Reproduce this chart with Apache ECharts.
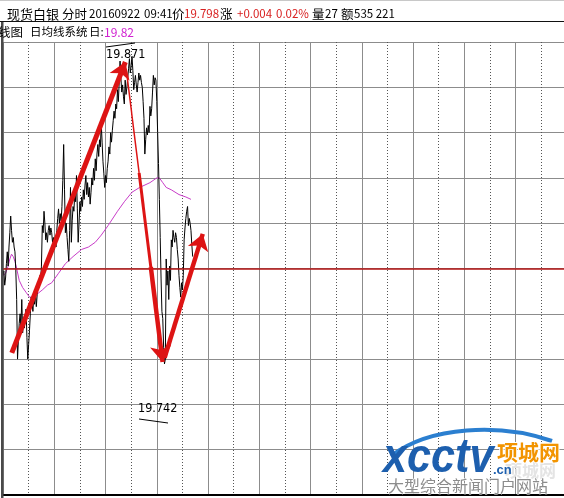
<!DOCTYPE html>
<html><head><meta charset="utf-8">
<script src="https://cdn.jsdelivr.net/npm/echarts@6/dist/echarts.min.js"></script>
<style>html,body{margin:0;padding:0;background:#fff;overflow:hidden}#c{width:564px;height:498px;}</style>
</head><body><div id="c"></div>
<script>
// ---- data (minute index from 06:00) ----
const priceValues = [
19.779,19.781,19.775,19.778,19.784,19.789,19.783,19.791,19.797,19.804,
19.798,19.793,19.795,19.791,19.789,19.781,19.769,19.744,19.752,19.759,
19.763,19.758,19.769,19.755,19.760,19.757,19.762,19.765,19.753,19.744,
19.750,19.756,19.763,19.770,19.768,19.764,19.770,19.767,19.772,19.766,
19.771,19.776,19.774,19.779,19.777,19.783,19.800,19.797,19.806,19.801,
19.794,19.797,19.793,19.798,19.800,19.796,19.799,19.797,19.793,19.795,
19.790,19.794,19.791,19.798,19.803,19.807,19.801,19.805,19.802,19.808,
19.819,19.834,19.815,19.797,19.801,19.795,19.790,19.785,19.798,19.816,
19.793,19.802,19.808,19.806,19.814,19.810,19.821,19.807,19.793,19.801,
19.810,19.806,19.812,19.808,19.815,19.811,19.817,19.821,19.813,19.818,
19.812,19.816,19.809,19.814,19.820,19.817,19.824,19.819,19.828,19.823,
19.830,19.834,19.829,19.836,19.833,19.843,19.835,19.827,19.822,19.816,
19.821,19.818,19.824,19.827,19.833,19.830,19.839,19.835,19.840,19.844,
19.848,19.845,19.851,19.849,19.857,19.852,19.860,19.869,19.862,19.856,
19.859,19.854,19.851,19.861,19.855,19.858,19.862,19.866,19.870,19.864,
19.867,19.871,19.865,19.857,19.860,19.863,19.859,19.856,19.860,19.864,
19.861,19.863,19.860,19.858,19.852,19.845,19.830,19.836,19.841,19.838,
19.842,19.839,19.850,19.846,19.849,19.856,19.863,19.859,19.862,19.861,
19.852,19.839,19.826,19.811,19.795,19.778,19.764,19.761,19.749,19.742,
19.744,19.786,19.775,19.781,19.769,19.783,19.777,19.794,19.791,19.798,
19.795,19.793,19.797,19.795,19.790,19.786,19.779,19.774,19.770,19.776,
19.773,19.779,19.794,19.799,19.803,19.806,19.808,19.800,19.803,19.801,
19.798,19.792,19.787
];
const avgMinutes = [0,3,6,8,10,12,14,16,19,23,27,31,35,39,46,52,57,65,73,82,92,100,108,115,123,134,142,151,160,172,180,183,187,191,197,206,214,220];
const avgValues  = [19.779,19.780,19.783,19.786,19.788,19.787,19.785,19.782,19.777,19.774,19.772,19.770,19.770,19.771,19.773,19.775,19.776,19.780,19.784,19.787,19.790,19.791,19.793,19.796,19.800,19.806,19.810,19.814,19.816,19.818,19.820,19.820,19.818,19.816,19.815,19.813,19.812,19.811];
const priceMin = 19.687, priceMax = 19.877, refPrice = 19.782;
const arrowSegments = [
  [10.3, 19.7466, 143.2, 19.8686],
  [145.5, 19.8619, 159.3, 19.8221],
  [159.3, 19.8221, 173.0, 19.7826],
  [173.0, 19.7826, 186.8, 19.7428],
  [189.1, 19.7445, 233.8, 19.7965]
];
const headerTitle = '现货白银', headerMode = '分时', headerDate = '20160922', headerTime = '09:41', headerPriceWord = '价';
const headerPrice = '19.798', headerUpWord = '涨', headerChange = '+0.004', headerPct = '0.02%';
const headerVol = '量', headerVolNum = '27', headerAmt = '额', headerAmtNum = '535 221';
const line2a = '线图', line2b = '日均线系统', line2c = '日:', line2d = '19.82';
const highLabel = '19.871', lowLabel = '19.742';

// ---- layout ----
const gridLeft = 3, gridRight = -12, gridTop = 42, gridBottom = 3;
const pxPerMin = 26.18 / 30;
const xMax = (564 - gridLeft - gridRight) / pxPerMin;

const arrowWidths = [5, 1.5, 3, 4.5, 4.5];
const arrowHead = [true, false, false, true, true];

const chart = echarts.init(document.getElementById('c'), null, {renderer: 'canvas'});
const cjk = '"Noto Sans CJK SC", sans-serif';
function t(x, y, text, fill, font, extra) {
  return Object.assign({type: 'text', x: x, y: y, z: 100, style: {text: text, fill: fill, font: font, verticalAlign: 'middle', align: 'left'}}, extra || {});
}
const hf = '13px ' + cjk;
const cf = '12.5px ' + cjk;
const nf = '11.5px ' + cjk;
const red = '#d82020';
const numFont = '12.5px "Liberation Sans Narrow", "DejaVu Sans Condensed", sans-serif';

const option = {
  animation: false,
  backgroundColor: '#fff',
  grid: {left: gridLeft, right: gridRight, top: gridTop, bottom: gridBottom, containLabel: false},
  xAxis: [
    {type: 'value', min: 0, max: xMax, show: false},
    {type: 'value', min: 0, max: xMax, interval: 30, position: 'bottom',
      axisLine: {show: true, lineStyle: {color: '#000', width: 2}}, axisTick: {show: false}, axisLabel: {show: false},
      splitLine: {show: true, lineStyle: {color: '#555', width: 1, type: [1, 2]}}},
    {type: 'value', min: 0, max: xMax, interval: 60, position: 'top',
      axisLine: {show: false}, axisTick: {show: false}, axisLabel: {show: false},
      splitLine: {show: true, lineStyle: {color: '#8c8c8c', width: 1}}}
  ],
  yAxis: [
    {type: 'value', min: priceMin, max: priceMax, show: false},
    {type: 'value', min: 0, max: 10, interval: 1,
      axisLine: {show: false}, axisTick: {show: false}, axisLabel: {show: false},
      splitLine: {show: true, lineStyle: {color: '#8c8c8c', width: 1}}}
  ],
  series: [
    {type: 'line', xAxisIndex: 0, yAxisIndex: 0, data: avgMinutes.map((m, i) => [m, avgValues[i]]),
      showSymbol: false, symbol: 'none', lineStyle: {color: '#c83cc8', width: 1}, z: 3, silent: true},
    {type: 'line', xAxisIndex: 0, yAxisIndex: 0, data: priceValues.map((v, i) => [i, v]),
      showSymbol: false, symbol: 'none', lineStyle: {color: '#000', width: 1}, z: 4, silent: true,
      markLine: {silent: true, symbol: 'none', label: {show: false}, precision: 4,
        lineStyle: {color: '#b41414', width: 1.5, type: 'solid'}, data: [{yAxis: refPrice}]}},
    {type: 'lines', coordinateSystem: 'cartesian2d', xAxisIndex: 0, yAxisIndex: 0, z: 6, silent: true,
      data: arrowSegments.map((s, i) => ({
        coords: [[s[0], s[1]], [s[2], s[3]]],
        symbol: arrowHead[i] ? ['none', 'arrow'] : ['none', 'none'],
        symbolSize: arrowHead[i] ? 16 : 0,
        lineStyle: {width: arrowWidths[i], color: '#dd1414', opacity: 1}
      })),
      lineStyle: {color: '#dd1414', opacity: 1}}
  ],
  graphic: [
    {type: 'line', z: 100, shape: {x1: 0, y1: 0.5, x2: 564, y2: 0.5}, style: {stroke: '#c8c8c8', lineWidth: 1}},
    {type: 'line', z: 100, shape: {x1: 0, y1: 21.5, x2: 564, y2: 21.5}, style: {stroke: '#111', lineWidth: 1}},
    {type: 'rect', z: 100, shape: {x: 1, y: 22, width: 2.5, height: 476}, style: {fill: '#4a4a4a'}},
    t(7, 14, headerTitle, '#000', hf),
    t(62, 14, headerMode, '#000', cf),
    t(89, 14, headerDate, '#000', nf),
    t(144, 14, headerTime, '#000', nf),
    t(172, 14, headerPriceWord, '#000', cf),
    t(184, 14, headerPrice, red, nf),
    t(220, 14, headerUpWord, '#000', cf),
    t(237, 14, headerChange, red, nf),
    t(276, 14, headerPct, red, nf),
    t(312, 14, headerVol, '#000', cf),
    t(325, 14, headerVolNum, '#000', nf),
    t(341, 14, headerAmt, '#000', cf),
    t(354, 14, headerAmtNum, '#000', nf),
    t(-2, 32, line2a, '#000', cf),
    t(30, 32, line2b, '#000', '11.5px ' + cjk),
    t(89, 32, line2c, '#000', '11.5px ' + cjk),
    t(104, 32, line2d, '#d020d0', '12px ' + cjk),
    t(106, 55, highLabel, '#000', numFont),
    {type: 'line', z: 100, shape: {x1: 106, y1: 47, x2: 135, y2: 43}, style: {stroke: '#000', lineWidth: 1}},
    t(138, 409, lowLabel, '#000', numFont),
    {type: 'line', z: 100, shape: {x1: 139, y1: 419, x2: 168, y2: 423}, style: {stroke: '#000', lineWidth: 1}},
    // watermark logo
    {type: 'bezierCurve', z: 100, shape: {x1: 391, y1: 456, x2: 552, y2: 441, cpx1: 430, cpy1: 426, cpx2: 500, cpy2: 423}, style: {stroke: '#2b7fd0', lineWidth: 4, fill: null}},
    {type: 'text', z: 100, x: 383, y: 483, scaleX: 0.9, style: {text: 'xcctv', fill: '#1d5fae', font: 'italic bold 48px "Liberation Sans", sans-serif', verticalAlign: 'bottom', align: 'left'}},
    {type: 'text', z: 100, x: 493, y: 477, style: {text: '.cn', fill: '#1d5fae', font: 'bold 13px "Liberation Sans", sans-serif', verticalAlign: 'bottom', align: 'left'}},
    {type: 'text', z: 100, x: 497, y: 452, style: {text: '项城网', fill: '#f29400', stroke: '#fff', lineWidth: 2, font: 'bold 21px ' + cjk, verticalAlign: 'middle', align: 'left'}},
    {type: 'text', z: 99, x: 505, y: 471, style: {text: '项城网', fill: '#e4e4e4', font: 'bold 17px ' + cjk, verticalAlign: 'middle', align: 'left'}},
    {type: 'text', z: 100, x: 388, y: 486, style: {text: '大型综合新闻门户网站', fill: '#8c8c8c', stroke: '#fff', lineWidth: 1, font: '16px ' + cjk, verticalAlign: 'middle', align: 'left'}}
  ]
};
chart.setOption(option);
</script>
</body></html>
